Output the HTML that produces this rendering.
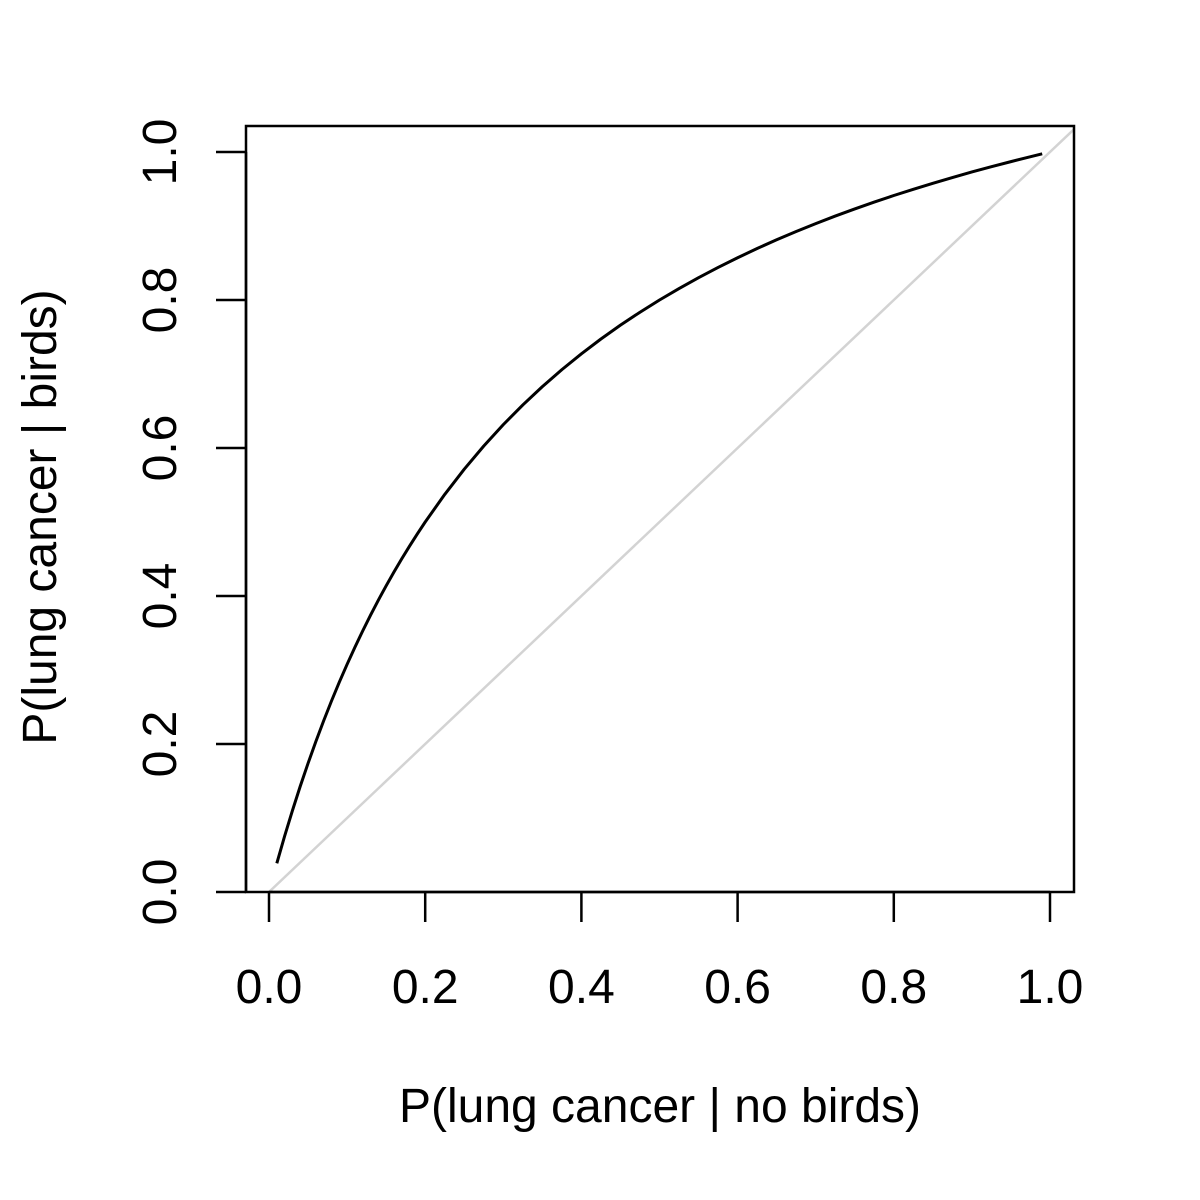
<!DOCTYPE html>
<html><head><meta charset="utf-8"><style>
html,body{margin:0;padding:0;background:#fff;}
svg{display:block;font-family:"Liberation Sans",Arial,sans-serif;}
</style></head><body>
<svg id="chart" width="1200" height="1200" viewBox="0 0 1200 1200" xmlns="http://www.w3.org/2000/svg">
<defs><clipPath id="clip"><rect x="246" y="126" width="828" height="766"/></clipPath></defs>
<rect x="0" y="0" width="1200" height="1200" fill="#fff"/>
<g id="diag" clip-path="url(#clip)"></g>
<g id="series"></g>
<rect x="246" y="126" width="828" height="766" fill="none" stroke="#000" stroke-width="2.5"/>
<g id="xaxis"></g>
<g id="yaxis"></g>
<text x="660" y="1122" font-size="48" text-anchor="middle">P(lung cancer | no birds)</text>
<text transform="translate(56,517) rotate(-90)" font-size="48" text-anchor="middle">P(lung cancer | birds)</text>
</svg>
<script>
const xValues = [0.01,0.02,0.03,0.04,0.05,0.06,0.07,0.08,0.09,0.10,0.11,0.12,0.13,0.14,0.15,0.16,0.17,0.18,0.19,0.2,0.225,0.25,0.275,0.3,0.325,0.35,0.375,0.4,0.425,0.45,0.475,0.5,0.525,0.55,0.575,0.6,0.625,0.65,0.675,0.7,0.725,0.75,0.775,0.8,0.825,0.85,0.875,0.9,0.925,0.95,0.97,0.99];
const yValues = [0.0388,0.0755,0.1101,0.1429,0.1739,0.2034,0.2314,0.2581,0.2835,0.3077,0.3308,0.3529,0.3741,0.3944,0.4138,0.4324,0.4503,0.4675,0.4841,0.5,0.5373,0.5714,0.6027,0.6316,0.6582,0.6829,0.7059,0.7273,0.7473,0.7660,0.7835,0.8,0.8155,0.8302,0.8440,0.8571,0.8696,0.8814,0.8926,0.9032,0.9134,0.9231,0.9323,0.9412,0.9496,0.9577,0.9655,0.9730,0.9801,0.9870,0.9923,0.9975];
const xTicks = [0,0.2,0.4,0.6,0.8,1.0];
const yTicks = [0,0.2,0.4,0.6,0.8,1.0];
const xTickLabels = ["0.0","0.2","0.4","0.6","0.8","1.0"];
const yTickLabels = ["0.0","0.2","0.4","0.6","0.8","1.0"];

const NS = "http://www.w3.org/2000/svg";
function sx(v){ return 269 + v*781; }
function sy(v){ return 892 - v*740; }
function mk(tag, attrs, parent){
  const e = document.createElementNS(NS, tag);
  for (const k in attrs) e.setAttribute(k, attrs[k]);
  parent.appendChild(e); return e;
}
const dl = mk('line', {x1:sx(-0.1), y1:sy(-0.1), x2:sx(1.2), y2:sy(1.2), stroke:'#d3d3d3', 'stroke-width':2.5}, document.getElementById('diag'));


const pts = xValues.map((x,i)=> sx(x).toFixed(2)+','+sy(yValues[i]).toFixed(2)).join(' ');
const curve = mk('polyline', {points:pts, fill:'none', stroke:'#000', 'stroke-width':3, 'stroke-linejoin':'round'}, document.getElementById('series'));


const xa = document.getElementById('xaxis');
const xl = mk('line', {x1:sx(xTicks[0]), y1:892, x2:sx(xTicks[xTicks.length-1]), y2:892, stroke:'#000','stroke-width':2.5}, xa);


xTicks.forEach((t,i)=>{
  const tk = mk('line', {x1:sx(t), y1:892, x2:sx(t), y2:922, stroke:'#000','stroke-width':2.5}, xa);
  
  
  const lb = mk('text', {x:sx(t), y:1003, 'font-size':48, 'text-anchor':'middle'}, xa);
  lb.textContent = xTickLabels[i];
  
  
});
const ya = document.getElementById('yaxis');
const yl = mk('line', {x1:246, y1:sy(yTicks[0]), x2:246, y2:sy(yTicks[yTicks.length-1]), stroke:'#000','stroke-width':2.5}, ya);


yTicks.forEach((t,i)=>{
  const tk = mk('line', {x1:216, y1:sy(t), x2:246, y2:sy(t), stroke:'#000','stroke-width':2.5}, ya);
  
  
  const lb = mk('text', {transform:'translate(176,'+sy(t)+') rotate(-90)', 'font-size':48, 'text-anchor':'middle'}, ya);
  lb.textContent = yTickLabels[i];
  
  
});
</script>
</body></html>
